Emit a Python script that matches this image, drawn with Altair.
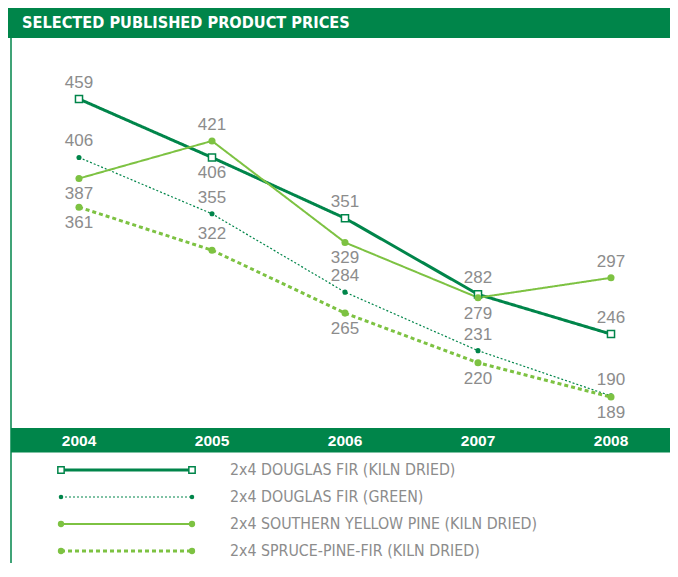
import altair as alt
import pandas as pd

# ---- data ----
years = [2004, 2005, 2006, 2007, 2008]
series_names = [
    "2x4 DOUGLAS FIR (KILN DRIED)",
    "2x4 DOUGLAS FIR (GREEN)",
    "2x4 SOUTHERN YELLOW PINE (KILN DRIED)",
    "2x4 SPRUCE-PINE-FIR (KILN DRIED)",
]
douglas_fir_kiln = [459, 406, 351, 282, 246]
douglas_fir_green = [406, 355, 284, 231, 190]
southern_yellow_pine = [387, 421, 329, 279, 297]
spruce_pine_fir = [361, 322, 265, 220, 189]
title_text = "SELECTED PUBLISHED PRODUCT PRICES"

series_values = [douglas_fir_kiln, douglas_fir_green, southern_yellow_pine, spruce_pine_fir]

# ---- styling (not data) ----
DARK = "#00854A"
LIGHT = "#7DC242"
GRAY = "#8c8c8c"
NARROW = "Liberation Sans Narrow, DejaVu Sans Condensed, Arial Narrow, sans-serif"
SANS = "Liberation Sans, Arial, sans-serif"

styles = [
    dict(color=DARK, width=3, dash=[1, 0], shape="square", size=50, filled=False, msw=1.5),
    dict(color=DARK, width=1.2, dash=[2, 2], shape="circle", size=26, filled=True, msw=0),
    dict(color=LIGHT, width=2, dash=[1, 0], shape="circle", size=50, filled=True, msw=0),
    dict(color=LIGHT, width=3, dash=[4, 3], shape="circle", size=50, filled=True, msw=0),
]
label_below = [
    [False, True, False, False, False],
    [False, False, False, False, False],
    [True, False, True, True, False],
    [True, False, True, True, True],
]

W, H = 662, 555
X_RANGE = [71, 603]
Y_RANGE = [389, 91]
LEG_Y_RANGE = [462, 543]

rows = []
for si, name in enumerate(series_names):
    for yi, yr in enumerate(years):
        rows.append(dict(series=name, sidx=si, year=yr, value=series_values[si][yi],
                         below=label_below[si][yi]))
df = pd.DataFrame(rows)
years_df = pd.DataFrame({"year": years})
legend_df = pd.DataFrame({"series": series_names, "row": list(range(len(series_names)))})
dummy = pd.DataFrame({"a": [0]})

X = alt.X("year:Q", scale=alt.Scale(domain=[years[0], years[-1]], range=X_RANGE, nice=False, zero=False), axis=None)
Y = alt.Y("value:Q", scale=alt.Scale(domain=[189, 459], range=Y_RANGE, nice=False, zero=False), axis=None)
LY = alt.Y("row:Q", scale=alt.Scale(domain=[0, 3], range=LEG_Y_RANGE, nice=False, zero=False), axis=None)

layers = []

# decorations
layers.append(alt.Chart(dummy).mark_rect(color=DARK).encode(
    x=alt.value(0), x2=alt.value(W), y=alt.value(0), y2=alt.value(30)))
layers.append(alt.Chart(dummy).mark_text(
    font=NARROW, fontSize=16.2, fontWeight="bold", color="white", align="left", baseline="middle"
).encode(x=alt.value(14), y=alt.value(15), text=alt.value(title_text)))
layers.append(alt.Chart(dummy).mark_rule(color=DARK, strokeWidth=1.5).encode(
    x=alt.value(3), y=alt.value(30), y2=alt.value(H)))
layers.append(alt.Chart(dummy).mark_rect(color=DARK).encode(
    x=alt.value(3), x2=alt.value(W), y=alt.value(420), y2=alt.value(444.5)))
layers.append(alt.Chart(years_df).mark_text(
    font=SANS, fontSize=15.5, fontWeight="bold", color="white", baseline="middle"
).encode(x=X, y=alt.value(432.5), text=alt.Text("year:Q", format="d")))

# lines
for si, name in enumerate(series_names):
    st = styles[si]
    sub = df[df.sidx == si]
    layers.append(alt.Chart(sub).mark_line(
        color=st["color"], strokeWidth=st["width"], strokeDash=st["dash"]
    ).encode(x=X, y=Y))

# points
for si, name in enumerate(series_names):
    st = styles[si]
    sub = df[df.sidx == si]
    fill = st["color"] if st["filled"] else "white"
    layers.append(alt.Chart(sub).mark_point(
        shape=st["shape"], size=st["size"], filled=True, fill=fill, stroke=st["color"],
        strokeWidth=st["msw"], opacity=1
    ).encode(x=X, y=Y))

# labels
for below, dy in [(False, -16), (True, 16)]:
    sub = df[df.below == below]
    layers.append(alt.Chart(sub).mark_text(
        font=SANS, fontSize=17, color=GRAY, baseline="middle", dy=dy
    ).encode(x=X, y=Y, text=alt.Text("value:Q", format="d")))

# legend
for si, name in enumerate(series_names):
    st = styles[si]
    sub = legend_df[legend_df.row == si]
    fill = st["color"] if st["filled"] else "white"
    layers.append(alt.Chart(sub).mark_rule(
        color=st["color"], strokeWidth=st["width"], strokeDash=st["dash"]
    ).encode(x=alt.value(53), x2=alt.value(184), y=LY))
    for xv in (53, 184):
        layers.append(alt.Chart(sub).mark_point(
            shape=st["shape"], size=st["size"] * 0.8, filled=True, fill=fill, stroke=st["color"],
            strokeWidth=st["msw"], opacity=1
        ).encode(x=alt.value(xv), y=LY))
layers.append(alt.Chart(legend_df).mark_text(
    font=NARROW, fontSize=15.8, color=GRAY, align="left", baseline="middle"
).encode(x=alt.value(222), y=LY, text="series:N"))

chart = alt.layer(*layers).resolve_scale(y="independent").properties(
    width=W, height=H, padding=0, autosize="none", background="white"
).configure_view(stroke=None)

chart.save("out.html", embed_options={"renderer": "svg", "actions": False})
